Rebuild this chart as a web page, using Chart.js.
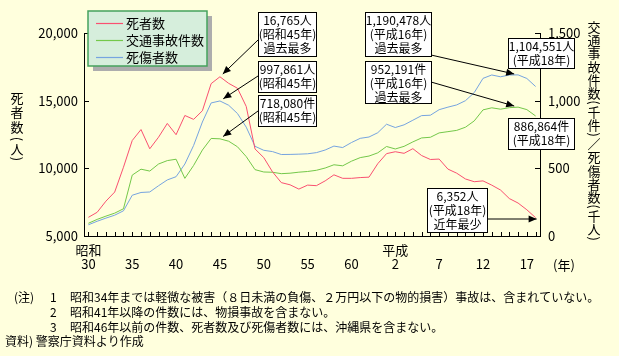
<!DOCTYPE html>
<html><head><meta charset="utf-8">
<script src="https://cdn.jsdelivr.net/npm/chart.js@4/dist/chart.umd.min.js"></script>
<style>html,body{margin:0;padding:0;background:#FFFFDD;}canvas{display:block;}</style>
</head><body>
<canvas id="c" width="619" height="356"></canvas>
<script>
// Years: Showa 30 (1955) .. Showa 63, Heisei 1 .. Heisei 18 (2006)
const categories = ["30","31","32","33","34","35","36","37","38","39","40","41","42","43","44","45","46","47","48","49","50","51","52","53","54","55","56","57","58","59","60","61","62","63","1","2","3","4","5","6","7","8","9","10","11","12","13","14","15","16","17","18"];
const shownTicks = ["30","35","40","45","50","55","60","2","7","12","17"];
const eraTicks = {"30":"昭和","2":"平成"};

// 死者数 (人)
const deaths = [6379,6751,7575,8248,10079,12055,12865,11445,12301,13318,
  12484,13904,13618,14256,16257,16765,16278,15918,14574,11432,
  10792,9734,8945,8783,8466,8760,8719,9073,9520,9262,
  9261,9317,9347,10344,11086,11227,11109,11452,10945,10653,
  10684,9943,9642,9214,9012,9073,8757,8396,7768,7436,
  6937,6352];
// 交通事故件数 (件)
const accidents = [93981,122691,146833,168799,201292,449917,493693,479825,531966,557183,
  567286,425944,521481,635056,720880,718080,700290,659283,586713,490452,
  472938,471041,460649,464037,471573,476677,485578,502261,526362,518642,
  552788,579190,590723,614481,661363,643097,662392,695345,724678,729461,
  761794,771085,780399,803882,850363,931950,947253,936950,948281,952191,
  933828,886864];
// 死傷者数 (人)
const casualties = [82880,108823,132105,153680,186030,301211,321562,325258,371390,414435,
  438150,531679,668995,842327,983257,997861,965967,905116,804522,662852,
  633259,623691,602156,602899,604748,607479,616065,635265,664342,653583,
  690607,721647,731526,763189,825918,801522,821354,855455,889578,892376,
  933361,952147,968567,999889,1059411,1164770,1189796,1176425,1189449,1190478,
  1164050,1104551];

const leftTicks = [5000,10000,15000,20000];
const rightTicks = [0,500,1000,1500]; // 千

const seriesNames = ["死者数","交通事故件数","死傷者数"];
const leftTitle = "死者数（人）";
const rightTitle = "交通事故件数（千件）／死傷者数（千人）";
const notes = [
  ["(注)","1","昭和34年までは軽微な被害（８日未満の負傷、２万円以下の物的損害）事故は、含まれていない。"],
  ["","2","昭和41年以降の件数には、物損事故を含まない。"],
  ["","3","昭和46年以前の件数、死者数及び死傷者数には、沖縄県を含まない。"]
];
const source = "資料) 警察庁資料より作成";

const BG = "#FFFFDD";
const RED = "#FA5070", GREEN = "#74C84A", BLUE = "#76A4E0";
const FONT = "'Noto Sans CJK JP','Noto Sans',sans-serif";

const fmt = v => v.toLocaleString('en-US');

// annotation boxes (layout) : series, index, text lines
const annots = [
  {box:[258,12,58,44], ds:0, idx:15, lines:[fmt(deaths[15])+"人","(昭和45年)","過去最多"], from:[258,40]},
  {box:[258,61,58,31], ds:2, idx:15, lines:[fmt(casualties[15])+"人","(昭和45年)"], from:[258,76]},
  {box:[258,95,58,31], ds:1, idx:15, lines:[fmt(accidents[15])+"件","(昭和45年)"], from:[258,111]},
  {box:[365,12,66,44], ds:2, idx:49, lines:[fmt(casualties[49])+"人","(平成16年)","過去最多"], from:[431,55]},
  {box:[365,61,66,42], ds:1, idx:49, lines:[fmt(accidents[49])+"件","(平成16年)","過去最多"], from:[431,82]},
  {box:[508,38,66,30], ds:2, idx:51, lines:[fmt(casualties[51])+"人","(平成18年)"]},
  {box:[508,118,66,31], ds:1, idx:51, lines:[fmt(accidents[51])+"件","(平成18年)"]},
  {box:[427,188,60,44], ds:0, idx:51, lines:[fmt(deaths[51])+"人","(平成18年)","近年最少"], from:[487,219], horiz:true}
];

function arrow(ctx, x1, y1, x2, y2){
  ctx.beginPath(); ctx.moveTo(x1,y1); ctx.lineTo(x2,y2); ctx.stroke();
  const a = Math.atan2(y2-y1, x2-x1), L = 8, W = 3.5;
  ctx.beginPath();
  ctx.moveTo(x2,y2);
  ctx.lineTo(x2 - L*Math.cos(a) + W*Math.sin(a), y2 - L*Math.sin(a) - W*Math.cos(a));
  ctx.lineTo(x2 - L*Math.cos(a) - W*Math.sin(a), y2 - L*Math.sin(a) + W*Math.cos(a));
  ctx.closePath(); ctx.fill();
}

// vertical text: g = {step, toOpen, afterOpen, toClose, afterClose}
function drawVertical(ctx, text, cx, y0, g){
  let y = y0, prev = null;
  for (const ch of text){
    const isOpen = ch === '（', isClose = ch === '）';
    if (prev !== null){
      if (isOpen) y += g.toOpen;
      else if (isClose) y += g.toClose;
      else if (prev === '（') y += g.afterOpen;
      else if (prev === '）') y += g.afterClose;
      else y += g.step;
    }
    if (isOpen || isClose){
      ctx.save(); ctx.translate(cx, y); ctx.rotate(Math.PI/2);
      ctx.fillText(isOpen ? '(' : ')', 0, 0);
      ctx.restore();
    } else {
      ctx.fillText(ch, cx, y);
    }
    prev = ch;
  }
}

const overlay = {
  id:'overlay',
  beforeDraw(chart){
    const ctx = chart.ctx;
    ctx.save(); ctx.fillStyle = BG; ctx.fillRect(0,0,chart.width,chart.height); ctx.restore();
  },
  afterDraw(chart){
    const ctx = chart.ctx, xs = chart.scales.x, ys = chart.scales.y, ys1 = chart.scales.y1;
    const ca = chart.chartArea;
    ctx.save();
    ctx.strokeStyle = '#000'; ctx.fillStyle = '#000'; ctx.lineWidth = 1;
    // tick marks (inside)
    ctx.beginPath();
    for (let i=0;i<categories.length;i++){
      const px = Math.round(xs.getPixelForValue(i)) + 0.5;
      ctx.moveTo(px, ca.bottom); ctx.lineTo(px, ca.bottom-4);
    }
    for (const v of leftTicks){
      const py = Math.round(ys.getPixelForValue(v)) + 0.5;
      ctx.moveTo(ca.left, py); ctx.lineTo(ca.left+5, py);
    }
    for (const v of rightTicks){
      const py = Math.round(ys1.getPixelForValue(v*1000)) + 0.5;
      ctx.moveTo(ca.right, py); ctx.lineTo(ca.right-5, py);
    }
    ctx.stroke();

    // legend
    const lx=88, ly=11, lw=119, lh=55;
    ctx.fillStyle = '#ADADAD'; ctx.fillRect(lx+5, ly+5, lw, lh);
    ctx.fillStyle = '#D6EEDC'; ctx.fillRect(lx, ly, lw, lh);
    ctx.strokeStyle = '#45A25D'; ctx.lineWidth = 1.5; ctx.strokeRect(lx, ly, lw, lh);
    const colors = [RED, GREEN, BLUE];
    ctx.font = "13px " + FONT; ctx.textBaseline = 'middle'; ctx.textAlign = 'left';
    for (let i=0;i<3;i++){
      const yy = ly + 12 + i*17;
      ctx.strokeStyle = colors[i]; ctx.lineWidth = 1.2;
      ctx.beginPath(); ctx.moveTo(lx+8, yy+0.5); ctx.lineTo(lx+35, yy+0.5); ctx.stroke();
      ctx.fillStyle = '#000'; ctx.fillText(seriesNames[i], lx+38, yy);
    }

    // annotation boxes with arrows
    ctx.font = "12px " + FONT; ctx.textAlign = 'center'; ctx.textBaseline = 'middle';
    for (const a of annots){
      const [bx,by,bw,bh] = a.box;
      ctx.fillStyle = '#FFF'; ctx.fillRect(bx,by,bw,bh);
      ctx.strokeStyle = '#000'; ctx.lineWidth = 1;
      ctx.strokeRect(Math.round(bx)+0.5, Math.round(by)+0.5, bw, bh);
      ctx.fillStyle = '#000';
      a.lines.forEach((t,k)=> ctx.fillText(t, bx + bw/2 + 0.5, by + 8.5 + k*14));
      if (a.from){
        const meta = chart.getDatasetMeta(a.ds);
        const pt = meta.data[a.idx];
        let tx = pt.x, ty = pt.y;
        const [fx,fy] = a.from;
        if (a.horiz){ ty = fy; tx = pt.x + 1; }
        else {
          const d = Math.hypot(fx-tx, fy-ty), gp = 4;
          tx += (fx-tx)/d*gp; ty += (fy-ty)/d*gp;
        }
        ctx.lineWidth = 1;
        arrow(ctx, fx, fy, tx, ty);
      }
    }

    // axis titles (vertical)
    ctx.font = "13px " + FONT; ctx.textAlign = 'center'; ctx.textBaseline = 'middle';
    drawVertical(ctx, leftTitle, 17, 98, {step:14.5, toOpen:12, afterOpen:10, toClose:10, afterClose:10});
    drawVertical(ctx, rightTitle, 594, 27, {step:13.2, toOpen:9.5, afterOpen:9.5, toClose:9.5, afterClose:9.5});

    // year unit
    ctx.textAlign = 'left';
    ctx.fillText("(年)", 553, 265);

    // notes
    ctx.font = "12px " + FONT; ctx.textAlign = 'left';
    notes.forEach((n,k)=>{
      const yy = 297 + k*15;
      if (n[0]) ctx.fillText(n[0], 14, yy);
      ctx.fillText(n[1], 50, yy);
      ctx.fillText(n[2], 70, yy);
    });
    ctx.fillText(source, 5, 341);
    ctx.restore();
  }
};

const tickFont = {family: FONT, size: 13, lineHeight: 1.1};
new Chart(document.getElementById('c'), {
  type: 'line',
  data: {
    labels: categories,
    datasets: [
      {label: seriesNames[0], data: deaths, yAxisID: 'y', borderColor: RED, borderWidth: 1, pointRadius: 0, tension: 0, fill: false},
      {label: seriesNames[1], data: accidents, yAxisID: 'y1', borderColor: GREEN, borderWidth: 1, pointRadius: 0, tension: 0, fill: false},
      {label: seriesNames[2], data: casualties, yAxisID: 'y1', borderColor: BLUE, borderWidth: 1, pointRadius: 0, tension: 0, fill: false}
    ]
  },
  options: {
    responsive: false, animation: false, devicePixelRatio: 1,
    layout: {padding: {top: 33, bottom: 84, left: 0, right: 0}},
    plugins: {legend: {display: false}, tooltip: {enabled: false}},
    scales: {
      x: {
        type: 'category', offset: true,
        grid: {display: false, drawTicks: false},
        border: {display: true, color: '#000', width: 1},
        ticks: {autoSkip: false, maxRotation: 0, minRotation: 0, padding: 7, color: '#000', font: tickFont,
          callback: (v, i) => { const c = categories[i]; return shownTicks.includes(c) ? [eraTicks[c] || '', c] : ''; }},
        afterFit: s => { s.height = 36; }
      },
      y: {
        position: 'left', min: 5000, max: 20000,
        grid: {display: false, drawTicks: false},
        border: {display: true, color: '#000', width: 1},
        ticks: {stepSize: 5000, padding: 6, color: '#000', font: tickFont, callback: v => fmt(v)},
        afterFit: s => { s.width = 84; }
      },
      y1: {
        position: 'right', min: 0, max: 1500000,
        grid: {display: false, drawTicks: false},
        border: {display: true, color: '#000', width: 1},
        ticks: {stepSize: 500000, padding: 8, color: '#000', font: tickFont, callback: v => fmt(v/1000)},
        afterFit: s => { s.width = 79; }
      }
    }
  },
  plugins: [overlay]
});
</script>
</body></html>
